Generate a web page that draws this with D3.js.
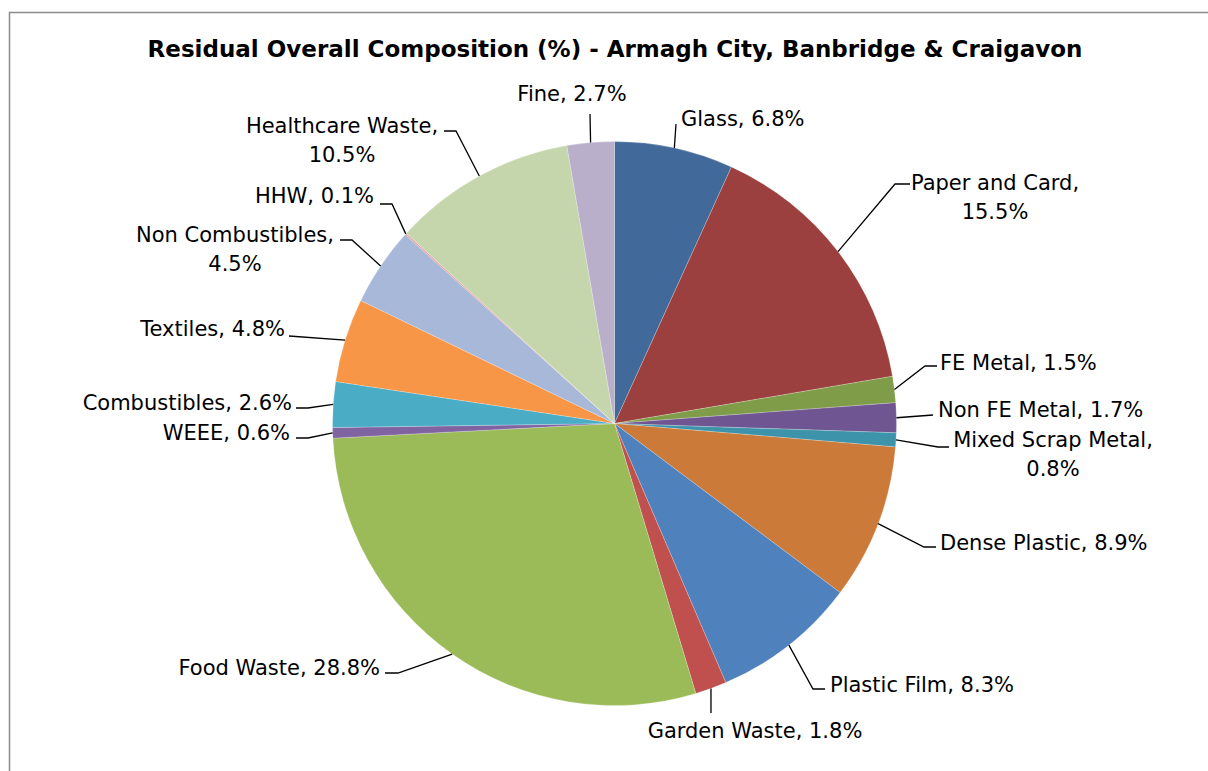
<!DOCTYPE html>
<html>
<head>
<meta charset="utf-8">
<script src="https://cdn.jsdelivr.net/npm/d3@7"></script>
<style>
  body { margin: 0; background: #fff; }
  svg { display: block; }
  text { font-family: Tahoma, "DejaVu Sans", sans-serif; fill: #000; }
</style>
</head>
<body>
<div id="chart"></div>
<script>
const categories = ["Glass","Paper and Card","FE Metal","Non FE Metal","Mixed Scrap Metal","Dense Plastic",
  "Plastic Film","Garden Waste","Food Waste","WEEE","Combustibles","Textiles","Non Combustibles","HHW",
  "Healthcare Waste","Fine"];
const values = [6.8,15.5,1.5,1.7,0.8,8.9,8.3,1.8,28.8,0.6,2.6,4.8,4.5,0.1,10.5,2.7];
const colors = ["#416a9b","#9b403e","#7f9c49","#6f5591","#3c93aa","#cb7a39","#4f81bd","#c0504d",
  "#9bbb59","#8064a2","#4bacc6","#f79646","#a8b8d9","#e4a3a2","#c6d6ac","#b9afca"];

// label placement (text anchor x/y, line break, leader end point near text)
const labelLayout = [
  {x:681, y:126, a:"start", lines:1, hx:676, hy:124, ex:676},
  {x:995, y:190, a:"middle", lines:2, hx:910, hy:184, ex:895},
  {x:940, y:370, a:"start", lines:1, hx:937, hy:366, ex:925},
  {x:938, y:417, a:"start", lines:1, hx:933, hy:415, ex:933},
  {x:1053, y:447, a:"middle", lines:2, hx:949, hy:447, ex:938},
  {x:940, y:550, a:"start", lines:1, hx:936, hy:547, ex:924},
  {x:830, y:692, a:"start", lines:1, hx:825, hy:689, ex:813},
  {x:755, y:738, a:"middle", lines:1, hx:711, hy:713, ex:711},
  {x:380, y:675, a:"end", lines:1, hx:385, hy:673, ex:398},
  {x:290, y:440, a:"end", lines:1, hx:296, hy:438, ex:308},
  {x:292, y:410, a:"end", lines:1, hx:296, hy:408, ex:308},
  {x:285, y:336, a:"end", lines:1, hx:289, hy:336, ex:289},
  {x:235, y:242, a:"middle", lines:2, hx:340, hy:240, ex:352},
  {x:374, y:203, a:"end", lines:1, hx:380, hy:204, ex:392},
  {x:342, y:133, a:"middle", lines:2, hx:444, hy:131, ex:456},
  {x:572, y:101, a:"middle", lines:1, hx:590, hy:114, ex:590}
];

const W = 1208, H = 771;
const cx = 614.5, cy = 423.5, R = 282;

const svg = d3.select("#chart").append("svg").attr("width", W).attr("height", H);

svg.append("rect").attr("x", 9.5).attr("y", 12.5).attr("width", W + 10).attr("height", H + 10)
  .attr("fill", "#fff").attr("stroke", "#8c8c8c").attr("stroke-width", 1.5);

svg.append("text").attr("x", 615).attr("y", 57).attr("text-anchor", "middle")
  .attr("font-size", 23).attr("font-weight", "bold")
  .text("Residual Overall Composition (%) - Armagh City, Banbridge & Craigavon");

const data = categories.map((c, i) => ({name: c, value: values[i], color: colors[i], lab: labelLayout[i]}));

const pie = d3.pie().value(d => d.value).sort(null);
const arc = d3.arc().innerRadius(0).outerRadius(R);
const arcs = pie(data);

const g = svg.append("g").attr("transform", `translate(${cx},${cy})`);

g.selectAll("path.slice").data(arcs).join("path")
  .attr("class", "slice")
  .attr("d", arc)
  .attr("fill", d => d.data.color)
  .attr("stroke", "rgba(255,255,255,0.45)")
  .attr("stroke-width", 0.5);

// leader lines
const lineGen = d3.line();
svg.append("g").selectAll("path").data(arcs).join("path")
  .attr("fill", "none").attr("stroke", "#000").attr("stroke-width", 1.3)
  .attr("d", d => {
    const a = (d.startAngle + d.endAngle) / 2;
    const px = cx + R * Math.sin(a), py = cy - R * Math.cos(a);
    const L = d.data.lab;
    return lineGen([[px, py], [L.ex, L.hy], [L.hx, L.hy]]);
  });

// labels
const labels = svg.append("g").selectAll("text").data(arcs).join("text")
  .attr("font-size", 21)
  .attr("text-anchor", d => d.data.lab.a)
  .attr("x", d => d.data.lab.x)
  .attr("y", d => d.data.lab.y);

labels.each(function(d) {
  const t = d3.select(this);
  const pct = d.data.value.toFixed(1) + "%";
  if (d.data.lab.lines === 2) {
    t.append("tspan").attr("x", d.data.lab.x).text(d.data.name + ",");
    t.append("tspan").attr("x", d.data.lab.x).attr("dy", 29).text(pct);
  } else {
    t.text(d.data.name + ", " + pct);
  }
});
</script>
</body>
</html>
